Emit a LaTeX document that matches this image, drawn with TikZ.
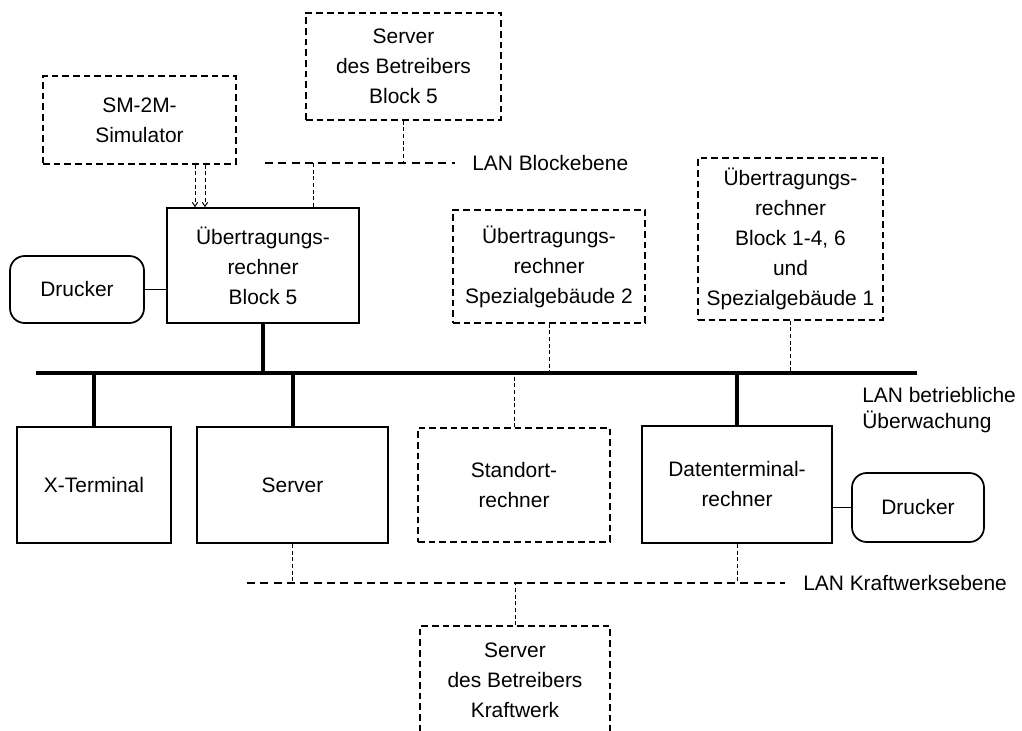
\documentclass[tikz,border=0pt]{standalone}
\usepackage{fontspec}
\setmainfont{Liberation Sans}
\usetikzlibrary{arrows.meta}

\newcommand{\netfont}{\fontsize{15.7}{22.5}\selectfont}
\tikzset{
  rechner/.style={draw, line width=1.3pt, align=center, inner sep=0pt, font=\netfont},
  extern/.style={draw, line width=0.8pt, dash pattern={on 5pt off 3pt}, align=center, inner sep=0pt, font=\netfont},
  drucker/.style={rechner, rounded corners=11pt},
  busline/.style={line width=3pt},
  lanline/.style={line width=0.8pt, dash pattern={on 6pt off 4pt}},
  lanlink/.style={line width=0.7pt, dash pattern={on 3pt off 2pt}},
  simlink/.style={lanlink, -{Straight Barb[length=3pt,width=4pt]}},
  netlabel/.style={anchor=west, inner sep=0pt, font=\netfont, align=left}
}

\begin{document}
\begin{tikzpicture}[x=0.75pt,y=0.75pt,yscale=-1,xscale=1]
				\fill[white] (0,0) rectangle (1022,731);
				\useasboundingbox (0,0) rectangle (1022,731);
				% Blockebene
				\node[extern, minimum width=144.75pt, minimum height=66pt] (sim) at (139.5,120) {SM-2M-\\Simulator};
				\node[extern, minimum width=146.25pt, minimum height=80.25pt] (srvb5) at (403.5,66.5) {Server\\des Betreibers\\Block 5};
				\coordinate (lbL) at (265,163);
				\coordinate (lbR) at (455,163);
				\draw[lanline] (lbL) -- (lbR);
				\node[netlabel] (lblock) at (472,163) {LAN Blockebene};
				\node[rechner, minimum width=144pt, minimum height=86.25pt] (ueb5) at (263,265.5) {Übertragungs-\\rechner\\Block 5};
				\node[drucker, minimum width=100.5pt, minimum height=50.25pt] (druck1) at (77,289.5) {Drucker};
				\node[extern, minimum width=144pt, minimum height=84.75pt] (sp2) at (549,266.5) {Übertragungs-\\rechner\\Spezialgebäude 2};
				\node[extern, minimum width=138.75pt, minimum height=121.5pt] (b146) at (790.5,239) {Übertragungs-\\rechner\\Block 1-4, 6\\und\\Spezialgebäude 1};
				\draw[lanlink] (srvb5.south) -- (srvb5.south |- lbL);
				\coordinate (b5up) at (313,163);
				\draw[lanlink] (b5up) -- (b5up |- ueb5.north);
				\coordinate (simA) at (195,0);
				\coordinate (simB) at (205,0);
				\draw[simlink] (sim.south -| simA) -- (ueb5.north -| simA);
				\draw[simlink] (sim.south -| simB) -- (ueb5.north -| simB);
				\draw[line width=1.3pt] (druck1.east) -- (druck1.east -| ueb5.west);
				% LAN betriebliche Ueberwachung
				\coordinate (busL) at (36,373);
				\coordinate (busR) at (917,373);
				\draw[busline] (busL) -- (busR);
				\node[netlabel, font=\fontsize{15.7}{19.5}\selectfont] (lbetr) at (862,410) {LAN betriebliche\\Überwachung};
				\node[rechner, minimum width=115.5pt, minimum height=87pt] (xterm) at (94,485) {X-Terminal};
				\node[rechner, minimum width=143.25pt, minimum height=87pt] (server) at (292.5,485) {Server};
				\node[extern, minimum width=144pt, minimum height=85.5pt] (stand) at (514,485) {Standort-\\rechner};
				\node[rechner, minimum width=142.5pt, minimum height=87.75pt] (daten) at (737,484.5) {Datenterminal-\\rechner};
				\node[drucker, minimum width=99pt, minimum height=51.75pt] (druck2) at (918,507.5) {Drucker};
				\draw[busline] (ueb5.south) -- (ueb5.south |- busL);
				\draw[lanlink] (sp2.south) -- (sp2.south |- busL);
				\draw[lanlink] (b146.south) -- (b146.south |- busL);
				\draw[busline] (xterm.north) -- (xterm.north |- busL);
				\draw[busline] (server.north) -- (server.north |- busL);
				\draw[lanlink] (stand.north) -- (stand.north |- busL);
				\draw[busline] (daten.north) -- (daten.north |- busL);
				\draw[line width=1.3pt] (druck2.west) -- (druck2.west -| daten.east);
				% Kraftwerksebene
				\coordinate (kwL) at (247,583);
				\coordinate (kwR) at (785,583);
				\draw[lanline] (kwL) -- (kwR);
				\node[netlabel] (lkw) at (803,583) {LAN Kraftwerksebene};
				\node[extern, minimum width=142.5pt, minimum height=81pt] (srvkw) at (515,680) {Server\\des Betreibers\\Kraftwerk};
				\draw[lanlink] (server.south) -- (server.south |- kwL);
				\draw[lanlink] (daten.south) -- (daten.south |- kwL);
				\draw[lanlink] (srvkw.north) -- (srvkw.north |- kwL);
\end{tikzpicture}
\end{document}
